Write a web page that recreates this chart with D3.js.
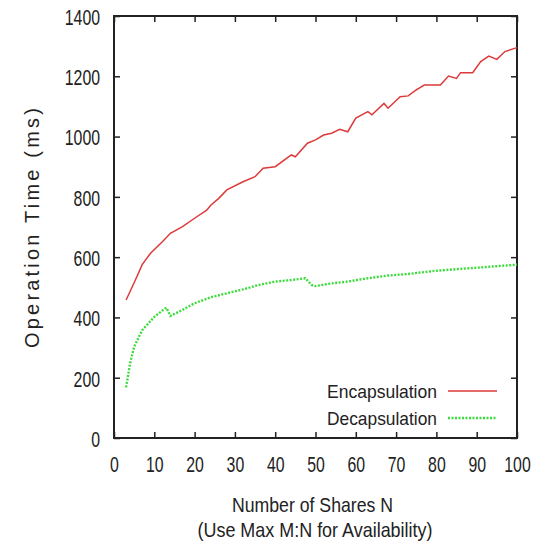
<!DOCTYPE html>
<html>
<head>
<meta charset="utf-8">
<script src="https://cdn.jsdelivr.net/npm/d3@7"></script>
<style>
  body { margin: 0; background: #fff; }
  text { font-family: "Liberation Sans", Arial, Helvetica, sans-serif; fill: #222; }
</style>
</head>
<body>
<div id="vis"></div>
<script>
// values
const encN = [3, 5, 7, 9, 12, 14, 17, 20, 23, 24, 26, 28, 32, 35, 37, 40, 44, 45, 48, 50, 52, 54, 56, 58, 60, 63, 64, 67, 68, 71, 73, 75, 77, 81, 83, 85, 86, 89, 91, 93, 95, 97, 100]
const encV = [458, 515, 575, 612, 651, 679, 701, 729, 756, 772, 795, 823, 850, 867, 895, 900, 939, 933, 978, 989, 1005, 1011, 1024, 1016, 1061, 1083, 1072, 1110, 1094, 1132, 1135, 1155, 1171, 1171, 1201, 1193, 1212, 1212, 1249, 1267, 1256, 1282, 1295]
const decN = [3, 4, 5, 7, 10, 12.5, 13, 14, 17, 20, 24, 28, 32, 36, 40, 44, 47.5, 49, 50, 54, 58, 63, 68, 73, 76, 80, 85, 90, 95, 100]
const decV = [168, 248, 303, 358, 402, 428, 432, 405, 425, 447, 467, 480, 493, 508, 519, 524, 530, 508, 504, 513, 519, 530, 539, 544, 549, 555, 560, 565, 570, 575]
const xTicks = [0, 10, 20, 30, 40, 50, 60, 70, 80, 90, 100]
const yTicks = [0, 200, 400, 600, 800, 1000, 1200, 1400]
const seriesNames = ['Encapsulation', 'Decapsulation']

const W = 547, H = 545
const m = { left: 114, right: 30, top: 16, bottom: 107 }
const tickSqueeze = 'scale(0.72,1)'

const svg = d3.select('#vis').append('svg').attr('width', W).attr('height', H)

const x = d3.scaleLinear().domain([0, 100]).range([m.left, W - m.right])
const y = d3.scaleLinear().domain([0, 1400]).range([H - m.bottom, m.top])

function styleAxis(g) {
  g.select('.domain').remove()
  g.selectAll('.tick line').attr('stroke', '#222').attr('stroke-width', 1.5)
  g.selectAll('text').attr('font-size', 22).attr('fill', '#222')
}

// bottom + top ticks (pointing inwards)
svg.append('g')
  .attr('transform', 'translate(0,' + y(0) + ')')
  .call(d3.axisBottom(x).tickValues(xTicks).tickSizeInner(-6).tickPadding(18).tickFormat(d3.format('d')))
  .call(styleAxis)
  .selectAll('text').attr('transform', tickSqueeze)
svg.append('g')
  .attr('transform', 'translate(0,' + y(1400) + ')')
  .call(d3.axisTop(x).tickValues(xTicks).tickSizeInner(-6).tickFormat(''))
  .call(styleAxis)

// left + right ticks
svg.append('g')
  .attr('transform', 'translate(' + x(0) + ',0)')
  .call(d3.axisLeft(y).tickValues(yTicks).tickSizeInner(-6).tickFormat(d3.format('d')))
  .call(styleAxis)
  .selectAll('text')
  .attr('x', 0).attr('dy', '0.38em')
  .attr('transform', 'translate(-14,0) ' + tickSqueeze)
svg.append('g')
  .attr('transform', 'translate(' + x(100) + ',0)')
  .call(d3.axisRight(y).tickValues(yTicks).tickSizeInner(-6).tickFormat(''))
  .call(styleAxis)

// frame
svg.append('rect')
  .attr('x', x(0)).attr('y', y(1400))
  .attr('width', x(100) - x(0)).attr('height', y(0) - y(1400))
  .attr('fill', 'none').attr('stroke', '#222').attr('stroke-width', 2)

const line = d3.line().x(d => x(d[0])).y(d => y(d[1]))

svg.append('path')
  .datum(d3.zip(encN, encV))
  .attr('d', line)
  .attr('fill', 'none').attr('stroke', '#dd3a3a').attr('stroke-width', 1.5)

svg.append('path')
  .datum(d3.zip(decN, decV))
  .attr('d', line)
  .attr('fill', 'none').attr('stroke', '#3ddc3d').attr('stroke-width', 2.4)
  .attr('stroke-dasharray', '2,1.5')

// legend
const legend = svg.append('g')
const legY = [391, 418]
seriesNames.forEach((name, i) => {
  legend.append('text')
    .attr('x', 437).attr('y', legY[i] + 7)
    .attr('text-anchor', 'end').attr('font-size', 19)
    .attr('textLength', 110).attr('lengthAdjust', 'spacingAndGlyphs')
    .text(name)
  legend.append('line')
    .attr('x1', 448).attr('x2', 497).attr('y1', legY[i]).attr('y2', legY[i])
    .attr('stroke', i === 0 ? '#dd3a3a' : '#3ddc3d')
    .attr('stroke-width', i === 0 ? 1.5 : 2.4)
    .attr('stroke-dasharray', i === 0 ? null : '2,1.5')
})

// axis titles
svg.append('text')
  .attr('x', 312.5).attr('y', 512)
  .attr('text-anchor', 'middle').attr('font-size', 21)
  .attr('textLength', 161).attr('lengthAdjust', 'spacingAndGlyphs')
  .text('Number of Shares N')
svg.append('text')
  .attr('x', 315).attr('y', 537)
  .attr('text-anchor', 'middle').attr('font-size', 21)
  .attr('textLength', 235).attr('lengthAdjust', 'spacingAndGlyphs')
  .text('(Use Max M:N for Availability)')
svg.append('text')
  .attr('transform', 'translate(39,228) rotate(-90)')
  .attr('text-anchor', 'middle').attr('font-size', 20)
  .attr('textLength', 240).attr('lengthAdjust', 'spacing')
  .text('Operation Time (ms)')
</script>
</body>
</html>
